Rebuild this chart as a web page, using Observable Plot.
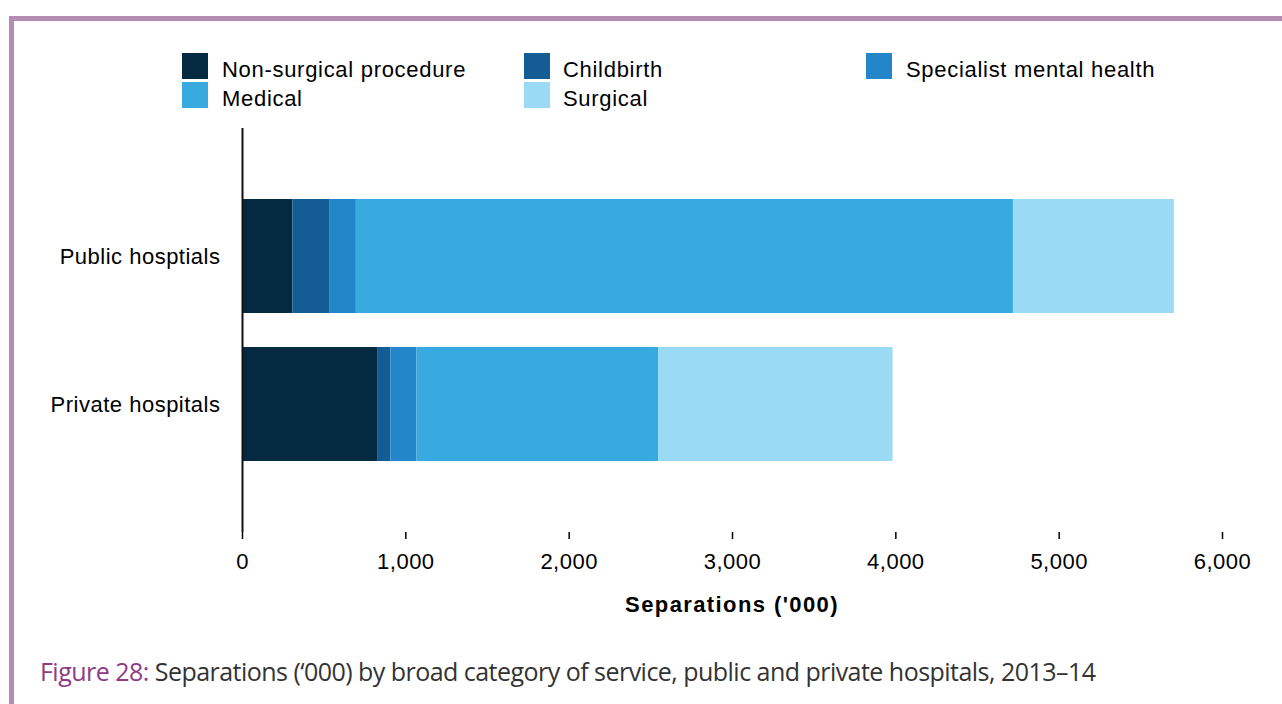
<!DOCTYPE html>
<html>
<head>
<meta charset="utf-8">
<script src="https://cdn.jsdelivr.net/npm/d3@7"></script>
<script src="https://cdn.jsdelivr.net/npm/@observablehq/plot@0.6"></script>
<style>
  html, body { margin: 0; padding: 0; background: #fff; }
  #page { position: relative; width: 1282px; height: 704px; overflow: hidden; background: #fff; font-family: "Liberation Sans", Arial, sans-serif; }
  #border-top { position: absolute; left: 9px; top: 16px; width: 1273px; height: 5px; background: #b48bb2; }
  #border-left { position: absolute; left: 9px; top: 16px; width: 5px; height: 688px; background: #b48bb2; }
  #chart { position: absolute; left: 0; top: 0; }
  .sw { position: absolute; width: 26px; height: 26px; }
  .lt { position: absolute; font-size: 22px; line-height: 22px; color: #000; white-space: nowrap; letter-spacing: 0.7px; }
  #xtitle { position: absolute; left: 242px; width: 980px; top: 594px; text-align: center; font-weight: bold; font-size: 22px; line-height: 22px; letter-spacing: 1.4px; color: #000; }
  #caption { position: absolute; left: 40px; top: 659px; font-family: "Open Sans", "Noto Sans", sans-serif; font-size: 25px; line-height: 25px; color: #333; white-space: nowrap; letter-spacing: -0.53px; }
  #caption .fig { color: #8e3a86; }
</style>
</head>
<body>
<div id="page">
  <div id="border-top"></div>
  <div id="border-left"></div>
  <div id="chart"></div>
  <div id="legend"></div>
  <div id="xtitle">Separations ('000)</div>
  <div id="caption"><span class="fig">Figure 28:</span> Separations (‘000) by broad category of service, public and private hospitals, 2013–14</div>
</div>
<script>
const hospitals = ["Public hosptials", "Private hospitals"];
const categories = ["Non-surgical procedure", "Childbirth", "Specialist mental health", "Medical", "Surgical"];
const colors = ["#042a42", "#145c94", "#2286c8", "#38aadf", "#9bdaf5"];
const publicValues = [308, 229, 160, 4023, 985];
const privateValues = [827, 82, 159, 1479, 1436];
const xTicks = [0, 1000, 2000, 3000, 4000, 5000, 6000];

const data = [];
categories.forEach((c, i) => {
  data.push({hospital: hospitals[0], category: c, value: publicValues[i]});
  data.push({hospital: hospitals[1], category: c, value: privateValues[i]});
});

const W = 1282, H = 640;
const chart = Plot.plot({
  width: W,
  height: H,
  marginTop: 128,
  marginBottom: H - 532,
  marginLeft: 242,
  marginRight: W - 1222,
  style: {fontFamily: "'Liberation Sans', Arial, sans-serif", fontSize: "22px", color: "#000", background: "transparent", overflow: "visible"},
  x: {domain: [0, 6000], ticks: xTicks, label: null},
  y: {domain: hospitals, paddingInner: 0.233, paddingOuter: 0.48, label: null},
  color: {domain: categories, range: colors},
  marks: [
    Plot.barX(data, Plot.stackX({y: "hospital", x: "value", fill: "category", order: categories})),
    Plot.axisY({tickSize: 0, tickPadding: 22, label: null, fontSize: 22}),
    Plot.axisX({ticks: xTicks, tickFormat: d3.format(","), tickSize: 7, tickPadding: 14, label: null, fontSize: 22, strokeWidth: 1.5}),
    Plot.ruleX([0], {stroke: "#111", strokeWidth: 2}),
    Plot.ruleY([0], {frameAnchor: "bottom", stroke: "#111", strokeWidth: 2})
  ]
});
chart.querySelectorAll("text").forEach(t => t.style.letterSpacing = "0.5px");
document.getElementById("chart").appendChild(chart);

const legendPos = [
  {x: 182, y: 53, tx: 222}, {x: 524, y: 53, tx: 563}, {x: 866, y: 53, tx: 906},
  {x: 182, y: 82, tx: 222}, {x: 524, y: 82, tx: 563}
];
const legend = document.getElementById("legend");
categories.forEach((c, i) => {
  const sw = document.createElement("div");
  sw.className = "sw";
  sw.style.left = legendPos[i].x + "px";
  sw.style.top = legendPos[i].y + "px";
  sw.style.background = colors[i];
  const t = document.createElement("div");
  t.className = "lt";
  t.style.left = legendPos[i].tx + "px";
  t.style.top = (legendPos[i].y + 6) + "px";
  t.textContent = c;
  legend.appendChild(sw);
  legend.appendChild(t);
});
</script>
</body>
</html>
